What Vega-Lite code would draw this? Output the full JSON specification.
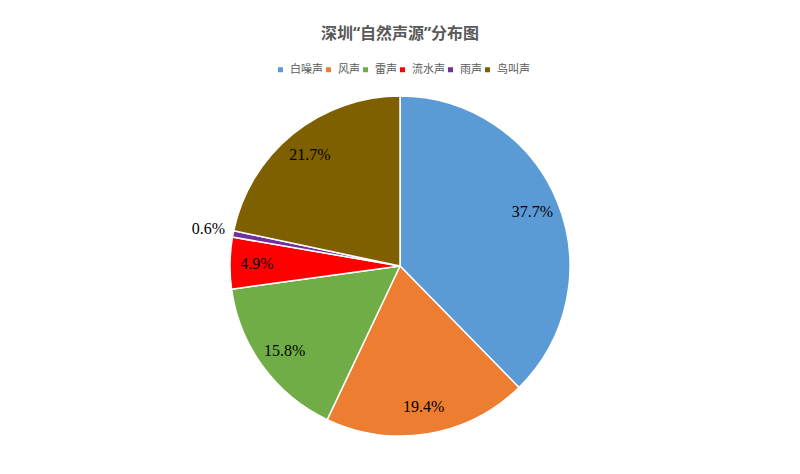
{
  "$schema": "https://vega.github.io/schema/vega-lite/v6.json",
  "description": "深圳自然声源分布图",
  "width": 800,
  "height": 416,
  "autosize": {"type": "none"},
  "padding": {"top": 58, "left": 0, "right": 0, "bottom": 0},
  "background": "white",
  "config": {
    "view": {"stroke": null},
    "font": "Noto Sans CJK SC"
  },
  "title": {
    "text": "深圳“自然声源”分布图",
    "font": "Noto Sans, Noto Sans CJK SC",
    "fontSize": 16,
    "fontWeight": "bold",
    "color": "#595959",
    "anchor": "middle",
    "offset": 16
  },
  "data": {
    "values": [
      {"source": "白噪声", "pct": 37.7},
      {"source": "风声", "pct": 19.4},
      {"source": "雷声", "pct": 15.8},
      {"source": "流水声", "pct": 4.9},
      {"source": "雨声", "pct": 0.6},
      {"source": "鸟叫声", "pct": 21.7}
    ]
  },
  "transform": [
    {"window": [{"op": "row_number", "as": "order"}]},
    {"calculate": "datum.pct >= 1 ? format(datum.pct, '.1f') + '%' : ''", "as": "labelIn"},
    {"calculate": "datum.pct < 1 ? format(datum.pct, '.1f') + '%' : ''", "as": "labelOut"}
  ],
  "encoding": {
    "theta": {"field": "pct", "type": "quantitative", "stack": true},
    "order": {"field": "order", "type": "quantitative"},
    "color": {
      "field": "source",
      "type": "nominal",
      "sort": ["白噪声", "风声", "雷声", "流水声", "雨声", "鸟叫声"],
      "scale": {
        "domain": ["白噪声", "风声", "雷声", "流水声", "雨声", "鸟叫声"],
        "range": ["#5B9BD5", "#ED7D31", "#70AD47", "#FF0000", "#7030A0", "#7F6000"]
      },
      "legend": {
        "title": null,
        "orient": "none",
        "direction": "horizontal",
        "columns": 6,
        "legendX": 275,
        "legendY": 6,
        "symbolType": "square",
        "symbolSize": 25,
        "symbolStrokeWidth": 0,
        "labelFontSize": 11,
        "labelColor": "#595959",
        "labelFont": "Noto Sans CJK SC",
        "columnPadding": 0,
        "labelOffset": 4
      }
    }
  },
  "layer": [
    {
      "mark": {"type": "arc", "outerRadius": 170, "stroke": "white", "strokeWidth": 1.5}
    },
    {
      "mark": {"type": "text", "radius": 143, "font": "Liberation Serif", "fontSize": 16},
      "encoding": {
        "text": {"field": "labelIn", "type": "nominal"},
        "color": {"value": "#000000"}
      }
    },
    {
      "mark": {"type": "text", "radius": 195, "font": "Liberation Serif", "fontSize": 16},
      "encoding": {
        "text": {"field": "labelOut", "type": "nominal"},
        "color": {"value": "#000000"}
      }
    }
  ]
}
